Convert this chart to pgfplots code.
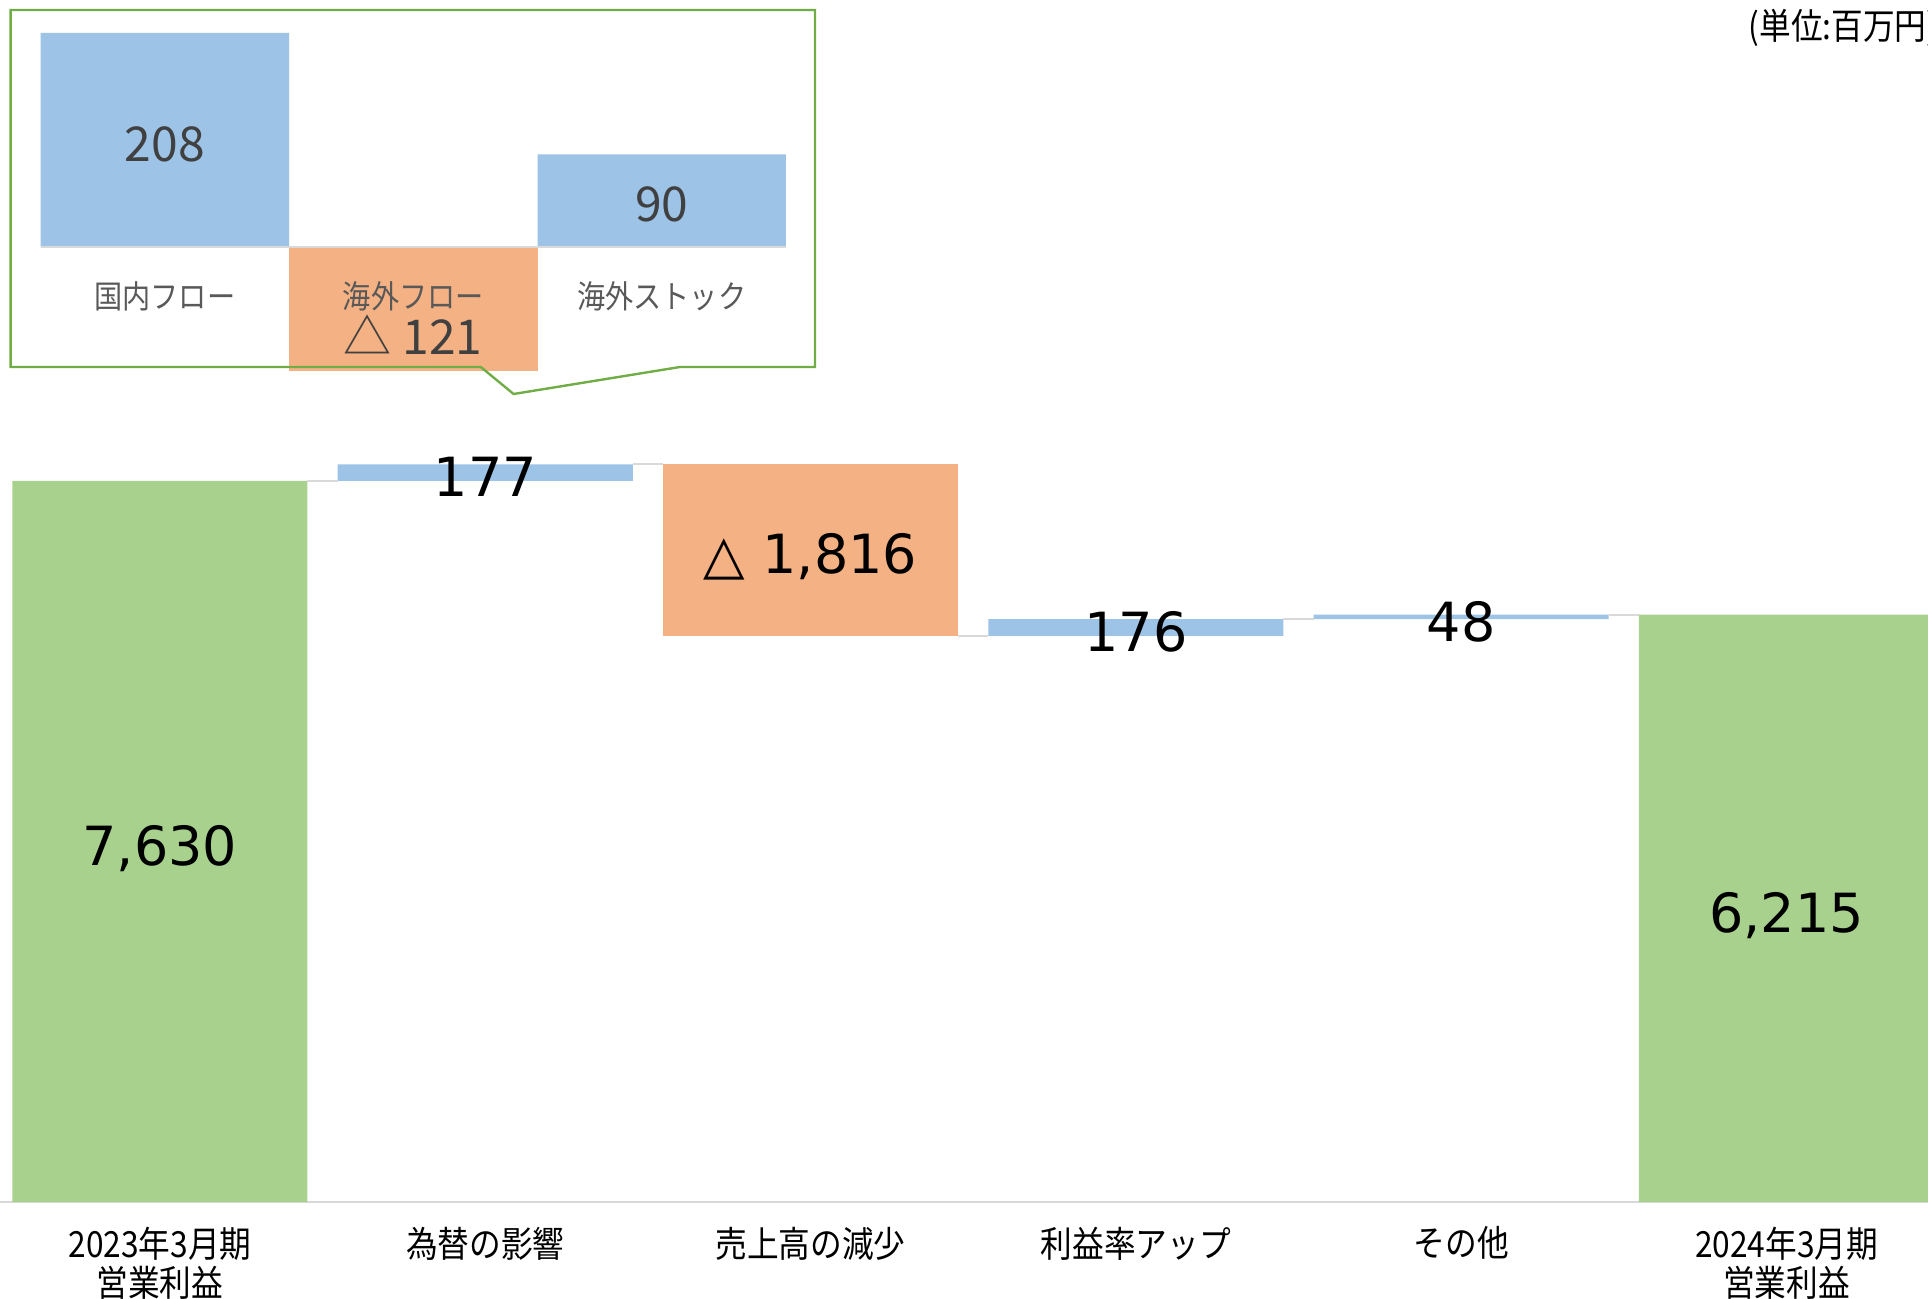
\documentclass[border=0pt]{standalone}
\usepackage{fontspec}
\usepackage{pgfplots}
\pgfplotsset{compat=1.18}
\setmainfont{DejaVu Sans}
\newfontfamily\jp{Noto Sans CJK JP}[FakeStretch=0.88]
\newfontfamily\jpn{Noto Sans CJK JP}

\definecolor{bargreen}{HTML}{A9D18E}
\definecolor{barblue}{HTML}{9DC3E6}
\definecolor{barorange}{HTML}{F4B183}
\definecolor{boxgreen}{HTML}{70AD47}
\definecolor{linegrey}{HTML}{D9D9D9}
\definecolor{labgrey}{HTML}{595959}
\definecolor{numgrey}{HTML}{404040}

% waterfall: invisible base + visible parts
% x: 0 2023, 1 fx, 2 sales, 3 margin, 4 other, 5 2024
\pgfplotstableread{
x base green blue orange
0 0    7630  0   0
1 7630 0     177 0
2 5991 0     0   1816
3 5991 0     176 0
4 6167 0     48  0
5 0    6215  0   0
}\wf
\usepackage{pgfplotstable}

\begin{document}
\begin{tikzpicture}
% main waterfall (1px = 0.25pt)
\begin{axis}[
    at={(0,0)}, anchor=south west,
    scale only axis, width=482pt, height=300.5pt,
    xmin=-0.4916, xmax=5.435, ymin=0, ymax=12720,
    ybar stacked, bar width=0.907,
    axis x line*=bottom, axis y line=none,
    x axis line style={-, draw=linegrey, line width=0.6pt},
    xtick={0,...,5}, major tick length=0pt,
    xticklabels={{2023年3月期\\営業利益},為替の影響,売上高の減少,利益率アップ,その他,{2024年3月期\\営業利益}},
    xticklabel style={font=\jp\fontsize{9}{9.75}\selectfont, align=center,
        anchor=north, inner sep=0pt, yshift=-6pt},
]
\addplot[draw=none, fill=none] table[x=x, y=base] {\wf};
\addplot[draw=none, fill=bargreen] table[x=x, y=green] {\wf};
\addplot[draw=none, fill=barblue] table[x=x, y=blue] {\wf};
\addplot[draw=none, fill=barorange] table[x=x, y=orange] {\wf};
\end{axis}

% connectors, labels
\begin{axis}[
    at={(0,0)}, anchor=south west,
    scale only axis, width=482pt, height=300.5pt,
    xmin=-0.4916, xmax=5.435, ymin=0, ymax=12720,
    hide axis, clip=false,
]
\addplot[linegrey, line width=0.5pt] coordinates {(0.4535,7630) (0.5465,7630)};
\addplot[linegrey, line width=0.5pt] coordinates {(1.4535,7807) (1.5465,7807)};
\addplot[linegrey, line width=0.5pt] coordinates {(2.4535,5991) (2.5465,5991)};
\addplot[linegrey, line width=0.5pt] coordinates {(3.4535,6167) (3.5465,6167)};
\addplot[linegrey, line width=0.5pt] coordinates {(4.4535,6215) (4.5465,6215)};
\addplot[only marks, mark=none, nodes near coords, point meta=explicit symbolic,
    every node near coord/.append style={anchor=center, inner sep=0pt,
        font=\fontsize{13.5}{16}\selectfont, text=black}]
    coordinates {(0,3745)[{7,630}] (1,7675)[177] (2,6825)[{△ 1,816}]
                 (3,6032)[176] (4,6138)[48] (5,3030)[{6,215}]};
\node[anchor=west, inner sep=0pt, font=\jp\fontsize{9}{10}\selectfont]
    at (rel axis cs:0.9066,0.9767) {(単位:百万円)};
\end{axis}

% inset: breakdown of FX effect
\begin{axis}[
    at={(10.15pt,207.625pt)}, anchor=south west,
    scale only axis, width=186.35pt, height=84.625pt,
    xmin=-0.5, xmax=2.5, ymin=-121, ymax=208,
    hide axis, clip=false, bar width=1,
]
\addplot[ybar, bar shift=0pt, draw=none, fill=barblue] coordinates {(0,208) (2,90)};
\addplot[ybar, bar shift=0pt, draw=none, fill=barorange] coordinates {(1,-121)};
\addplot[linegrey, line width=0.4pt] coordinates {(-0.5,0) (2.5,0)};
\addplot[only marks, mark=none, nodes near coords, point meta=explicit symbolic,
    every node near coord/.append style={anchor=center, inner sep=0pt,
        font=\jpn\fontsize{12}{14}\selectfont, text=numgrey}]
    coordinates {(0,100)[208] (2,41)[90] (1,-85)[{△ 121}]};
\addplot[only marks, mark=none, nodes near coords, point meta=explicit symbolic,
    every node near coord/.append style={anchor=center, inner sep=0pt,
        font=\jp\fontsize{8}{9}\selectfont, text=labgrey}]
    coordinates {(0,-47.6)[国内フロー] (1,-47.6)[海外フロー] (2,-47.6)[海外ストック]};
\end{axis}

% callout frame
\draw[boxgreen, line width=0.6pt]
    (2.65pt,208.75pt) -- (120.2pt,208.75pt) -- (128.4pt,202pt) -- (170pt,208.75pt)
    -- (203.75pt,208.75pt) -- (203.75pt,298pt) -- (2.65pt,298pt) -- cycle;

\pgfresetboundingbox
\useasboundingbox (0,-24pt) rectangle (482pt,300.5pt);
\end{tikzpicture}
\end{document}
